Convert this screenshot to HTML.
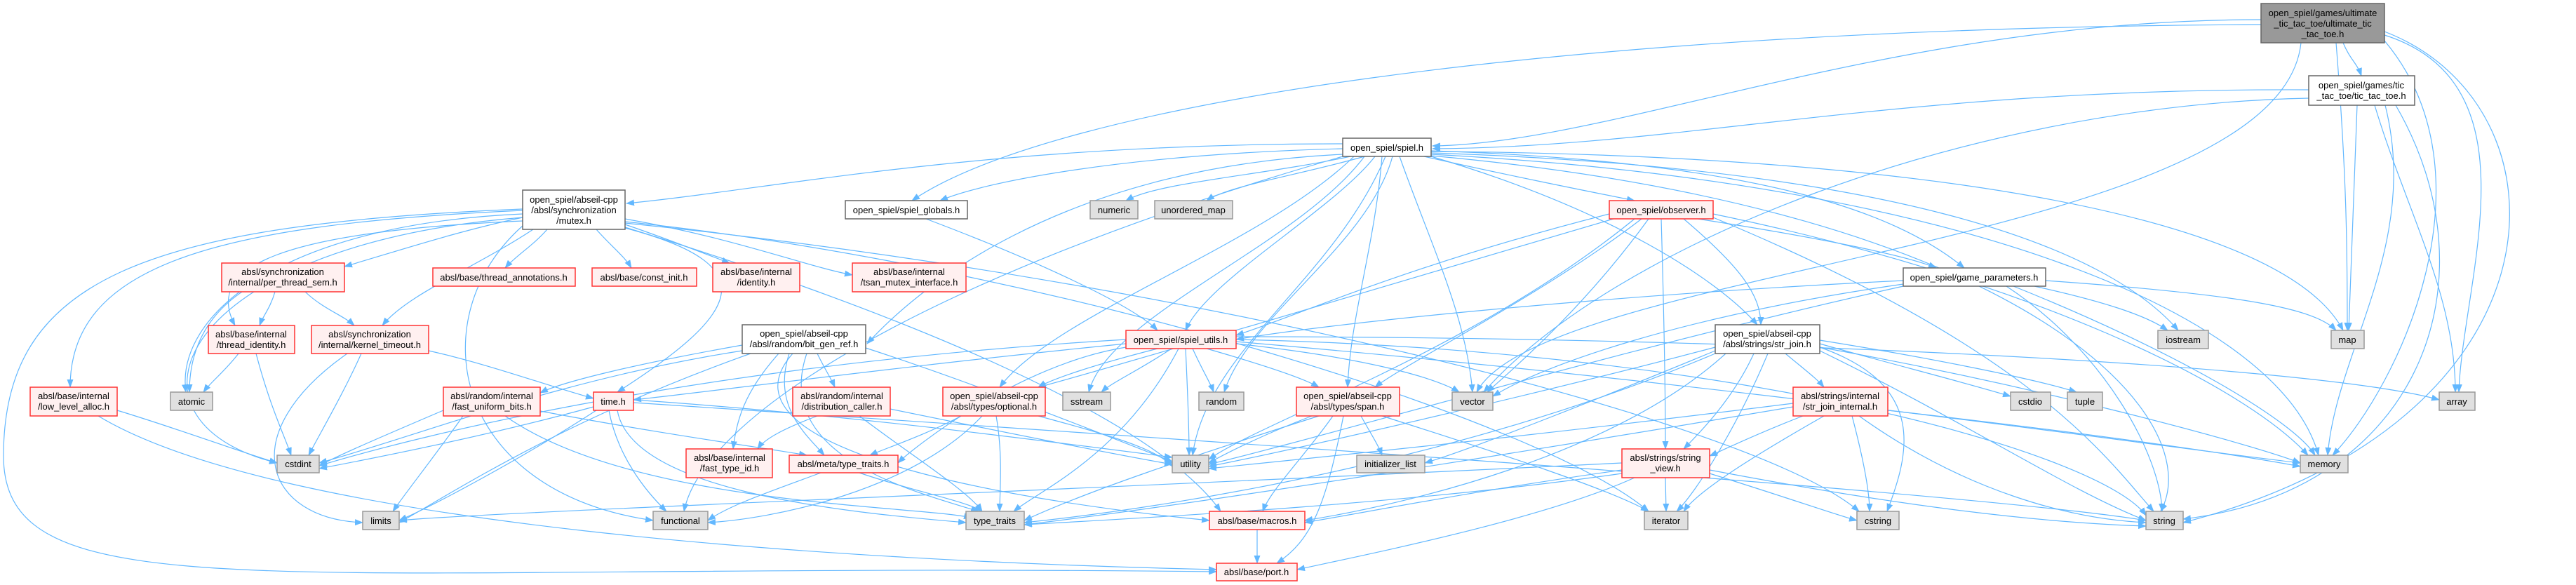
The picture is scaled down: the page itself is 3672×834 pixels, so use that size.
<!DOCTYPE html>
<html><head><meta charset="utf-8"><style>
html,body{margin:0;padding:0;background:#fff;width:3672px;height:834px;overflow:hidden}
svg text{font-family:"Liberation Sans",sans-serif;font-size:13px;fill:#000;text-anchor:middle}
.e{fill:none;stroke:#63b8ff;stroke-width:1.2;marker-end:url(#a)}
.r{fill:#fff0f0;stroke:#ff3333;stroke-width:1.5}
.g{fill:#e0e0e0;stroke:#999;stroke-width:1.5}
.w{fill:#fff;stroke:#666;stroke-width:1.5}
.k{fill:#999;stroke:#666;stroke-width:1.5}
</style></head><body>
<svg width="3672" height="834" viewBox="0 0 3672 834" xmlns="http://www.w3.org/2000/svg">
<defs><marker id="a" markerWidth="12" markerHeight="9" refX="11" refY="4.5" orient="auto" markerUnits="userSpaceOnUse"><path d="M0,0 L12,4.5 L0,9 z" fill="#63b8ff"/></marker></defs>
<g>
<path class="e" d="M3340,61 C3350,85 3360,90 3366,108"/>
<path class="e" d="M3223,28 C2700,28 2300,205 2042,208"/>
<path class="e" d="M3223,35 C2200,40 1500,150 1300,286"/>
<path class="e" d="M3280,61 C3250,350 2200,380 2105,559"/>
<path class="e" d="M3330,61 C3345,250 3346,350 3346,471"/>
<path class="e" d="M3399,50 C3620,120 3510,400 3505,559"/>
<path class="e" d="M3399,58 C3560,250 3420,550 3325,649"/>
<path class="e" d="M3399,45 C3672,150 3672,600 3112,745"/>
<path class="e" d="M3291,128 C2700,125 2400,210 2042,212"/>
<path class="e" d="M3291,140 C2800,150 2300,350 2115,559"/>
<path class="e" d="M3360,150 C3355,300 3350,400 3348,471"/>
<path class="e" d="M3385,150 C3430,300 3500,420 3500,559"/>
<path class="e" d="M3400,150 C3450,350 3330,500 3318,649"/>
<path class="e" d="M3415,150 C3560,400 3450,700 3112,740"/>
<path class="e" d="M1914,205 C1400,205 1100,270 893,290"/>
<path class="e" d="M1914,212 C1600,220 1400,260 1340,286"/>
<path class="e" d="M1925,223 C1800,250 1650,260 1605,286"/>
<path class="e" d="M1945,223 C1850,250 1750,265 1720,286"/>
<path class="e" d="M2030,223 C2150,250 2250,270 2330,286"/>
<path class="e" d="M2040,215 C2500,230 2700,300 2800,382"/>
<path class="e" d="M1960,223 C1900,300 1720,400 1690,471"/>
<path class="e" d="M1914,220 C1500,240 1300,420 1236,490"/>
<path class="e" d="M1930,223 C1800,350 1500,450 1425,552"/>
<path class="e" d="M1970,223 C1960,350 1925,450 1921,552"/>
<path class="e" d="M2040,223 C2300,300 2450,400 2505,463"/>
<path class="e" d="M1945,223 C1850,350 1580,450 1552,559"/>
<path class="e" d="M1985,223 C1950,350 1780,450 1745,559"/>
<path class="e" d="M1975,223 C1900,400 1720,500 1700,649"/>
<path class="e" d="M1995,223 C2040,350 2090,450 2099,559"/>
<path class="e" d="M2040,218 C2700,240 3000,350 3105,471"/>
<path class="e" d="M2040,216 C2700,220 3250,300 3340,471"/>
<path class="e" d="M2040,220 C2800,260 3250,450 3305,649"/>
<path class="e" d="M2040,222 C2900,300 3150,600 3080,729"/>
<path class="e" d="M1914,223 C1300,400 1000,600 975,729"/>
<path class="e" d="M780,327 C760,350 735,365 720,382"/>
<path class="e" d="M850,327 C870,350 890,365 900,382"/>
<path class="e" d="M891,320 C950,340 1000,360 1040,375"/>
<path class="e" d="M891,312 C1050,340 1150,380 1215,392"/>
<path class="e" d="M745,310 C650,330 560,360 491,380"/>
<path class="e" d="M745,315 C400,330 290,380 335,464"/>
<path class="e" d="M760,327 C680,380 580,420 545,464"/>
<path class="e" d="M745,300 C300,320 100,380 100,552"/>
<path class="e" d="M745,305 C400,320 250,450 265,559"/>
<path class="e" d="M745,310 C250,350 150,600 395,660"/>
<path class="e" d="M891,325 C1100,380 1050,450 880,559"/>
<path class="e" d="M745,298 C200,320 5,400 5,650 C5,880 400,800 1734,815"/>
<path class="e" d="M745,322 C600,450 640,700 931,742"/>
<path class="e" d="M891,316 C1500,380 2200,600 2350,729"/>
<path class="e" d="M891,318 C1700,400 2500,600 2650,729"/>
<path class="e" d="M891,324 C1300,450 1650,600 1740,729"/>
<path class="e" d="M392,416 C385,440 375,450 370,464"/>
<path class="e" d="M435,416 C460,440 490,450 505,464"/>
<path class="e" d="M345,416 C280,460 270,520 270,559"/>
<path class="e" d="M340,504 C320,530 300,545 290,559"/>
<path class="e" d="M365,504 C385,580 405,620 415,649"/>
<path class="e" d="M515,504 C490,560 455,620 440,649"/>
<path class="e" d="M495,504 C330,620 380,740 517,745"/>
<path class="e" d="M611,500 C700,520 780,550 846,568"/>
<path class="e" d="M167,585 C250,610 330,640 395,660"/>
<path class="e" d="M140,593 C400,750 1200,800 1734,812"/>
<path class="e" d="M1058,492 C900,520 800,545 770,560"/>
<path class="e" d="M1165,504 C1175,525 1185,540 1190,552"/>
<path class="e" d="M1110,504 C1060,560 1050,600 1045,640"/>
<path class="e" d="M1125,504 C1100,580 1150,620 1175,649"/>
<path class="e" d="M1234,496 C1400,550 1600,630 1671,658"/>
<path class="e" d="M1150,504 C1100,650 1300,700 1395,729"/>
<path class="e" d="M1130,504 C1000,650 1500,720 1724,742"/>
<path class="e" d="M1058,500 C800,540 600,620 455,660"/>
<path class="e" d="M1070,504 C800,600 650,700 569,745"/>
<path class="e" d="M632,585 C550,620 480,650 455,664"/>
<path class="e" d="M660,593 C620,650 580,700 560,729"/>
<path class="e" d="M720,593 C900,720 1300,720 1385,738"/>
<path class="e" d="M770,586 C950,620 1100,640 1150,649"/>
<path class="e" d="M1165,593 C1120,610 1090,625 1080,640"/>
<path class="e" d="M1225,593 C1300,650 1380,700 1400,729"/>
<path class="e" d="M1269,583 C1450,620 1600,650 1671,662"/>
<path class="e" d="M846,580 C700,620 550,650 455,668"/>
<path class="e" d="M850,585 C750,650 620,720 569,742"/>
<path class="e" d="M868,585 C880,650 920,700 950,729"/>
<path class="e" d="M880,585 C900,700 1200,730 1377,745"/>
<path class="e" d="M903,574 C1600,620 2800,700 3059,742"/>
<path class="e" d="M903,570 C1200,590 1500,630 1671,652"/>
<path class="e" d="M1170,674 C1100,700 1040,720 1009,742"/>
<path class="e" d="M1225,674 C1300,700 1380,715 1400,729"/>
<path class="e" d="M1320,312 C1500,380 1620,440 1650,471"/>
<path class="e" d="M1650,497 C1560,520 1500,540 1480,552"/>
<path class="e" d="M1670,497 C1620,530 1585,545 1570,559"/>
<path class="e" d="M1700,497 C1715,530 1725,545 1730,559"/>
<path class="e" d="M1690,497 C1693,560 1695,610 1695,649"/>
<path class="e" d="M1680,497 C1600,650 1480,700 1445,729"/>
<path class="e" d="M1720,497 C1800,520 1860,540 1880,552"/>
<path class="e" d="M1762,490 C1950,510 2050,540 2080,559"/>
<path class="e" d="M1762,484 C2500,500 3000,650 3059,735"/>
<path class="e" d="M1762,480 C2500,480 3300,520 3477,570"/>
<path class="e" d="M1605,484 C1000,520 600,620 455,664"/>
<path class="e" d="M1605,495 C1450,520 1300,640 1280,660"/>
<path class="e" d="M1605,490 C1300,520 1000,560 903,570"/>
<path class="e" d="M1762,487 C2500,550 3100,640 3279,660"/>
<path class="e" d="M1370,593 C1320,620 1260,640 1240,649"/>
<path class="e" d="M1480,593 C1580,620 1650,640 1671,665"/>
<path class="e" d="M1420,593 C1430,650 1425,700 1425,729"/>
<path class="e" d="M1400,593 C1300,700 1100,740 1009,745"/>
<path class="e" d="M1940,593 C1955,620 1965,635 1970,649"/>
<path class="e" d="M1970,593 C2150,650 2300,700 2350,729"/>
<path class="e" d="M1900,593 C1860,650 1810,700 1800,729"/>
<path class="e" d="M1915,593 C1890,720 1870,770 1820,803"/>
<path class="e" d="M1880,593 C1700,650 1550,700 1460,742"/>
<path class="e" d="M1870,593 C1800,620 1750,645 1723,660"/>
<path class="e" d="M2294,305 C2000,380 1850,450 1762,478"/>
<path class="e" d="M2420,312 C2600,340 2720,365 2760,382"/>
<path class="e" d="M2400,312 C2480,380 2510,420 2510,463"/>
<path class="e" d="M2340,312 C2200,420 2000,520 1960,552"/>
<path class="e" d="M2300,312 C2000,400 1600,520 1480,552"/>
<path class="e" d="M2350,312 C2250,450 2140,540 2120,559"/>
<path class="e" d="M2368,312 C2372,450 2374,550 2374,640"/>
<path class="e" d="M2442,305 C2900,400 3200,550 3290,649"/>
<path class="e" d="M2442,310 C2900,500 3000,650 3070,729"/>
<path class="e" d="M2330,312 C2100,500 1800,600 1723,655"/>
<path class="e" d="M2713,400 C2300,420 1900,460 1762,484"/>
<path class="e" d="M2916,400 C3200,420 3300,440 3330,471"/>
<path class="e" d="M2870,408 C3100,500 3270,600 3300,649"/>
<path class="e" d="M2860,408 C3000,500 3080,650 3082,729"/>
<path class="e" d="M2900,408 C3000,430 3060,450 3090,471"/>
<path class="e" d="M2713,405 C2400,450 2200,520 2128,565"/>
<path class="e" d="M2713,408 C2300,500 1900,620 1723,662"/>
<path class="e" d="M2545,504 C2570,525 2590,540 2600,552"/>
<path class="e" d="M2500,504 C2470,570 2420,620 2400,640"/>
<path class="e" d="M2594,490 C2700,520 2800,545 2866,565"/>
<path class="e" d="M2594,485 C2750,510 2900,540 2960,559"/>
<path class="e" d="M2594,495 C2750,550 2720,650 2690,729"/>
<path class="e" d="M2594,500 C2800,600 2950,700 3059,742"/>
<path class="e" d="M2594,495 C2900,550 3200,630 3279,660"/>
<path class="e" d="M2445,495 C2200,560 1850,640 1723,665"/>
<path class="e" d="M2445,500 C2300,560 2100,640 2031,660"/>
<path class="e" d="M2520,504 C2480,600 2420,700 2390,729"/>
<path class="e" d="M2445,504 C2100,650 1700,720 1460,745"/>
<path class="e" d="M2460,504 C2300,650 2000,720 1860,742"/>
<path class="e" d="M2570,593 C2500,620 2460,640 2437,650"/>
<path class="e" d="M2640,593 C2655,650 2665,700 2665,729"/>
<path class="e" d="M2650,593 C2800,700 2950,740 3059,745"/>
<path class="e" d="M2691,585 C3000,620 3200,650 3279,665"/>
<path class="e" d="M2600,593 C2500,650 2420,700 2400,729"/>
<path class="e" d="M2556,580 C2200,640 1700,720 1460,748"/>
<path class="e" d="M2556,575 C2200,620 1900,650 1723,668"/>
<path class="e" d="M2374,681 L2375,729"/>
<path class="e" d="M2437,670 C2700,720 2900,745 3059,750"/>
<path class="e" d="M2437,675 C2550,710 2620,735 2647,742"/>
<path class="e" d="M2312,660 C1500,700 700,730 569,742"/>
<path class="e" d="M2312,670 C2100,700 1950,730 1860,745"/>
<path class="e" d="M2330,681 C2200,740 1950,790 1849,812"/>
<path class="e" d="M2312,675 C2000,720 1600,740 1460,748"/>
<path class="e" d="M1792,755 L1792,803"/>
</g>
<g>
<rect class="k" x="3223" y="5" width="176" height="56"/><text x="3311" y="23">open_spiel/games/ultimate</text><text x="3311" y="38">_tic_tac_toe/ultimate_tic</text><text x="3311" y="53">_tac_toe.h</text>
<rect class="w" x="3291" y="108" width="151" height="42"/><text x="3366" y="126">open_spiel/games/tic</text><text x="3366" y="141">_tac_toe/tic_tac_toe.h</text>
<rect class="w" x="1914" y="197" width="126" height="26"/><text x="1977" y="215">open_spiel/spiel.h</text>
<rect class="w" x="745" y="271" width="146" height="56"/><text x="818" y="289">open_spiel/abseil-cpp</text><text x="818" y="304">/absl/synchronization</text><text x="818" y="319">/mutex.h</text>
<rect class="w" x="1205" y="286" width="174" height="26"/><text x="1292" y="304">open_spiel/spiel_globals.h</text>
<rect class="g" x="1554" y="286" width="68" height="26"/><text x="1588" y="304">numeric</text>
<rect class="g" x="1646" y="286" width="111" height="26"/><text x="1701" y="304">unordered_map</text>
<rect class="r" x="2294" y="286" width="148" height="26"/><text x="2368" y="304">open_spiel/observer.h</text>
<rect class="w" x="2713" y="382" width="203" height="26"/><text x="2814" y="400">open_spiel/game_parameters.h</text>
<rect class="r" x="316" y="375" width="175" height="41"/><text x="403" y="392">absl/synchronization</text><text x="403" y="407">/internal/per_thread_sem.h</text>
<rect class="r" x="617" y="382" width="203" height="26"/><text x="718" y="400">absl/base/thread_annotations.h</text>
<rect class="r" x="844" y="382" width="149" height="26"/><text x="918" y="400">absl/base/const_init.h</text>
<rect class="r" x="1016" y="375" width="124" height="41"/><text x="1078" y="392">absl/base/internal</text><text x="1078" y="407">/identity.h</text>
<rect class="r" x="1215" y="375" width="162" height="41"/><text x="1296" y="392">absl/base/internal</text><text x="1296" y="407">/tsan_mutex_interface.h</text>
<rect class="r" x="297" y="464" width="123" height="40"/><text x="358" y="481">absl/base/internal</text><text x="358" y="496">/thread_identity.h</text>
<rect class="r" x="444" y="464" width="167" height="40"/><text x="527" y="481">absl/synchronization</text><text x="527" y="496">/internal/kernel_timeout.h</text>
<rect class="w" x="1058" y="463" width="176" height="41"/><text x="1146" y="480">open_spiel/abseil-cpp</text><text x="1146" y="495">/absl/random/bit_gen_ref.h</text>
<rect class="r" x="1605" y="471" width="157" height="26"/><text x="1683" y="489">open_spiel/spiel_utils.h</text>
<rect class="w" x="2445" y="463" width="149" height="41"/><text x="2519" y="480">open_spiel/abseil-cpp</text><text x="2519" y="495">/absl/strings/str_join.h</text>
<rect class="g" x="3076" y="471" width="72" height="26"/><text x="3112" y="489">iostream</text>
<rect class="g" x="3323" y="471" width="47" height="26"/><text x="3346" y="489">map</text>
<rect class="r" x="43" y="552" width="124" height="41"/><text x="105" y="569">absl/base/internal</text><text x="105" y="584">/low_level_alloc.h</text>
<rect class="g" x="243" y="559" width="60" height="26"/><text x="273" y="577">atomic</text>
<rect class="r" x="632" y="552" width="138" height="41"/><text x="701" y="569">absl/random/internal</text><text x="701" y="584">/fast_uniform_bits.h</text>
<rect class="r" x="846" y="559" width="57" height="26"/><text x="874" y="577">time.h</text>
<rect class="r" x="1130" y="552" width="139" height="41"/><text x="1200" y="569">absl/random/internal</text><text x="1200" y="584">/distribution_caller.h</text>
<rect class="r" x="1344" y="552" width="146" height="41"/><text x="1417" y="569">open_spiel/abseil-cpp</text><text x="1417" y="584">/absl/types/optional.h</text>
<rect class="g" x="1515" y="559" width="68" height="26"/><text x="1549" y="577">sstream</text>
<rect class="g" x="1709" y="559" width="64" height="26"/><text x="1741" y="577">random</text>
<rect class="r" x="1848" y="552" width="147" height="41"/><text x="1921" y="569">open_spiel/abseil-cpp</text><text x="1921" y="584">/absl/types/span.h</text>
<rect class="g" x="2070" y="559" width="58" height="26"/><text x="2099" y="577">vector</text>
<rect class="r" x="2556" y="552" width="135" height="41"/><text x="2623" y="569">absl/strings/internal</text><text x="2623" y="584">/str_join_internal.h</text>
<rect class="g" x="2866" y="559" width="57" height="26"/><text x="2894" y="577">cstdio</text>
<rect class="g" x="2947" y="559" width="50" height="26"/><text x="2972" y="577">tuple</text>
<rect class="g" x="3477" y="559" width="51" height="26"/><text x="3502" y="577">array</text>
<rect class="g" x="395" y="649" width="60" height="25"/><text x="425" y="666">cstdint</text>
<rect class="r" x="978" y="640" width="123" height="41"/><text x="1040" y="657">absl/base/internal</text><text x="1040" y="672">/fast_type_id.h</text>
<rect class="r" x="1125" y="649" width="155" height="25"/><text x="1202" y="666">absl/meta/type_traits.h</text>
<rect class="g" x="1671" y="649" width="52" height="25"/><text x="1697" y="666">utility</text>
<rect class="g" x="1934" y="649" width="97" height="25"/><text x="1982" y="666">initializer_list</text>
<rect class="r" x="2312" y="640" width="125" height="41"/><text x="2374" y="657">absl/strings/string</text><text x="2374" y="672">_view.h</text>
<rect class="g" x="3279" y="649" width="68" height="25"/><text x="3313" y="666">memory</text>
<rect class="g" x="517" y="729" width="52" height="26"/><text x="543" y="747">limits</text>
<rect class="g" x="931" y="729" width="78" height="26"/><text x="970" y="747">functional</text>
<rect class="g" x="1377" y="729" width="83" height="26"/><text x="1418" y="747">type_traits</text>
<rect class="r" x="1724" y="729" width="136" height="26"/><text x="1792" y="747">absl/base/macros.h</text>
<rect class="g" x="2344" y="729" width="62" height="26"/><text x="2375" y="747">iterator</text>
<rect class="g" x="2647" y="729" width="60" height="26"/><text x="2677" y="747">cstring</text>
<rect class="g" x="3059" y="729" width="53" height="26"/><text x="3085" y="747">string</text>
<rect class="r" x="1734" y="803" width="115" height="25"/><text x="1791" y="820">absl/base/port.h</text>
</g>
</svg>
</body></html>
